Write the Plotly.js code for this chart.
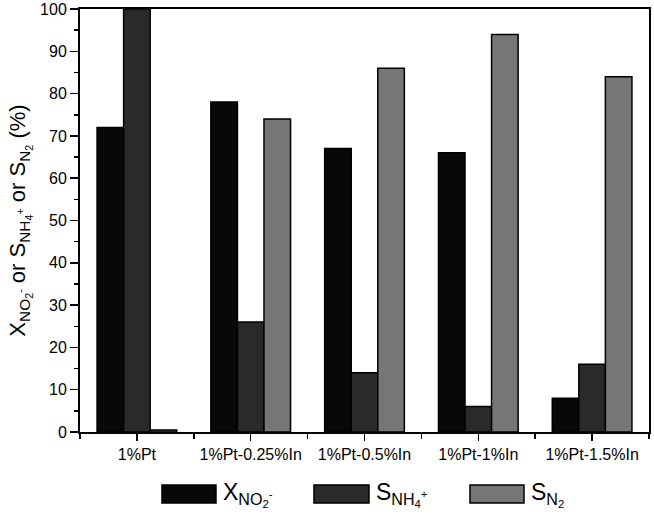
<!DOCTYPE html>
<html>
<head>
<meta charset="utf-8">
<script src="https://cdn.plot.ly/plotly-3.0.1.min.js"></script>
<style>html,body{margin:0;padding:0;background:#fff;}#chart{width:654px;height:517px;}</style>
</head>
<body>
<div id="chart"></div>
<script>
const categories = ["1%Pt", "1%Pt-0.25%In", "1%Pt-0.5%In", "1%Pt-1%In", "1%Pt-1.5%In"];
const seriesNames = ["X<sub>NO<sub>2</sub><sup>-</sup></sub>", "S<sub>NH<sub>4</sub><sup>+</sup></sub>", "S<sub>N<sub>2</sub></sub>"];
const xNO2 = [72, 78, 67, 66, 8];
const sNH4 = [100, 26, 14, 6, 16];
const sN2 = [0.5, 74, 86, 94, 84];
const yTicks = [0, 10, 20, 30, 40, 50, 60, 70, 80, 90, 100];

const colors = ["#080808", "#2a2a2a", "#767676"];
const xIdx = categories.map((c, i) => i);
const seriesData = [xNO2, sNH4, sN2];

const traces = seriesData.map((vals, k) => ({
  type: "bar",
  x: xIdx,
  y: vals,
  name: seriesNames[k],
  marker: {color: colors[k], line: {color: "#000", width: 1.5}},
  showlegend: false,
  hoverinfo: "skip"
}));

const legX = [[0.1441, 0.2390], [0.4112, 0.5079], [0.6854, 0.7803]];
const shapes = legX.map((p, k) => ({
  type: "rect", xref: "paper", yref: "paper",
  x0: p[0], x1: p[1], y0: -0.1678, y1: -0.1253,
  fillcolor: colors[k], line: {color: "#000", width: 1.5}
}));
const annotations = legX.map((p, k) => ({
  xref: "paper", yref: "paper", x: p[1] + 0.008, y: -0.1466,
  xanchor: "left", yanchor: "middle", showarrow: false,
  text: seriesNames[k],
  font: {family: "Liberation Sans, Arial, sans-serif", size: 23, color: "#000"}
}));

const layout = {
  width: 654, height: 517,
  margin: {l: 80, r: 5, t: 9, b: 85},
  paper_bgcolor: "#fff", plot_bgcolor: "#fff",
  font: {family: "Liberation Sans, Arial, sans-serif", color: "#000"},
  barmode: "group", bargap: 0.3, bargroupgap: 0,
  xaxis: {
    type: "linear", range: [-0.5, 4.5],
    tickvals: xIdx, ticktext: categories,
    tickfont: {size: 16},
    ticks: "outside", ticklen: 7, tickwidth: 1.5, tickcolor: "#000",
    minor: {tick0: 0.5, dtick: 1, ticks: "outside", ticklen: 5, tickwidth: 1.5, tickcolor: "#000"},
    showline: true, linewidth: 2, linecolor: "#000", mirror: true,
    showgrid: false, zeroline: false, fixedrange: true
  },
  yaxis: {
    range: [0, 100], tickvals: yTicks,
    tickfont: {size: 16},
    ticks: "outside", ticklen: 8, tickwidth: 1.5, tickcolor: "#000",
    minor: {tick0: 5, dtick: 10, ticks: "outside", ticklen: 4, tickwidth: 1.5, tickcolor: "#000"},
    showline: true, linewidth: 2, linecolor: "#000", mirror: true,
    showgrid: false, zeroline: false, fixedrange: true,
    title: {text: "X<sub>NO<sub>2</sub><sup>-</sup></sub> or S<sub>NH<sub>4</sub><sup>+</sup></sub> or S<sub>N<sub>2</sub></sub> (%)", font: {size: 22}, standoff: 8}
  },
  shapes: shapes,
  annotations: annotations
};

Plotly.newPlot("chart", traces, layout, {displayModeBar: false, staticPlot: true});
</script>
</body>
</html>
